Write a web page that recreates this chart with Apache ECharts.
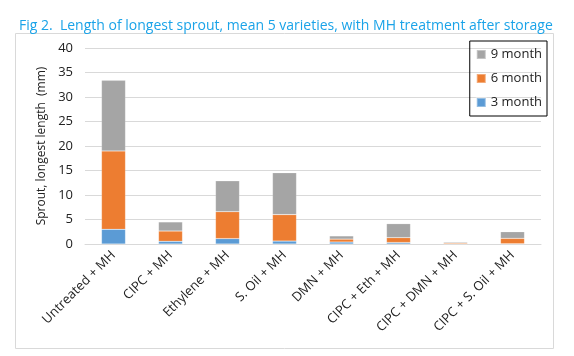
<!DOCTYPE html>
<html><head><meta charset="utf-8">
<script src="https://cdn.jsdelivr.net/npm/echarts@6/dist/echarts.min.js"></script>
<style>html,body{margin:0;padding:0;background:#fff}#c{width:574px;height:356px}</style>
</head><body><div id="c"></div>
<script>
const categories = ['Untreated + MH','CIPC + MH','Ethylene + MH','S. Oil + MH','DMN + MH','CIPC + Eth + MH','CIPC + DMN + MH','CIPC + S. Oil + MH'];
const month3 = [3.0, 0.55, 1.1, 0.6, 0.4, 0.3, 0.05, 0.05];
const month6 = [16.0, 2.1, 5.5, 5.4, 0.6, 1.0, 0.2, 1.1];
const month9 = [14.4, 1.85, 6.3, 8.55, 0.65, 2.85, 0.2, 1.35];
const yTicks = [0, 5, 10, 15, 20, 25, 30, 35, 40];

const font = 'Open Sans';
const chart = echarts.init(document.getElementById('c'));
const barStyle = c => ({color: c, borderColor: 'rgba(255,255,255,0.35)', borderWidth: 0.5});
chart.setOption({
  animation: false,
  textStyle: {fontFamily: font},
  title: {
    text: 'Fig 2.  Length of longest sprout, mean 5 varieties, with MH treatment after storage',
    left: 14, top: 14,
    textStyle: {color: '#1aa3e8', fontSize: 14, fontWeight: 'normal', fontFamily: font}
  },
  graphic: [{type: 'rect', shape: {x: 15.5, y: 33.5, width: 538, height: 315},
    style: {fill: 'none', stroke: '#d9d9d9', lineWidth: 1}, z: -1}],
  legend: {
    data: ['9 month', '6 month', '3 month'],
    orient: 'vertical', right: 27, top: 41,
    borderColor: '#000', borderWidth: 1,
    padding: [7, 5, 7, 6], itemGap: 11,
    itemWidth: 9, itemHeight: 9, icon: 'rect',
    textStyle: {fontSize: 13, color: '#222', fontFamily: font}
  },
  grid: {left: 85, right: 33, top: 48, bottom: 112},
  xAxis: {
    type: 'category', data: categories,
    axisLine: {lineStyle: {color: '#d9d9d9'}},
    axisTick: {show: false},
    axisLabel: {rotate: 45, color: '#222', fontSize: 13, interval: 0, margin: 9, fontFamily: font}
  },
  yAxis: {
    type: 'value', min: yTicks[0], max: yTicks[yTicks.length - 1], interval: 5,
    name: 'Sprout, longest length  (mm)', nameLocation: 'middle', nameGap: 36,
    nameTextStyle: {color: '#222', fontSize: 12, fontFamily: font},
    axisLine: {show: false}, axisTick: {show: false},
    axisLabel: {color: '#222', fontSize: 13, margin: 12, fontFamily: font},
    splitLine: {lineStyle: {color: '#d9d9d9'}}
  },
  series: [
    {name: '3 month', type: 'bar', stack: 's', data: month3, barWidth: 24, itemStyle: barStyle('#5b9bd5')},
    {name: '6 month', type: 'bar', stack: 's', data: month6, itemStyle: barStyle('#ed7d31')},
    {name: '9 month', type: 'bar', stack: 's', data: month9, itemStyle: barStyle('#a5a5a5')}
  ]
});
</script></body></html>
